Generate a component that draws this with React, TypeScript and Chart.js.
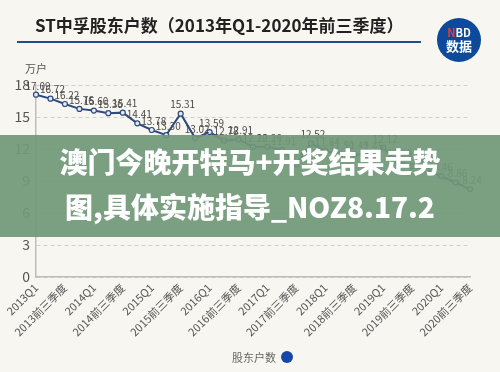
import React, { useEffect, useRef } from "react";
import { Chart, registerables } from "chart.js";

Chart.register(...registerables);

const years = ["2013", "2014", "2015", "2016", "2017", "2018", "2019", "2020"];
const periods = ["Q1", "中报", "前三季度", "年报"];
const categories: string[] = [];
years.forEach((y) => {
  periods.forEach((p) => {
    if (!(y === "2020" && p === "年报")) categories.push(y + p);
  });
});

const holders = [
  17.09, 16.72, 16.22, 15.76, 15.6, 15.36, 15.41, 14.41, 13.78, 13.3, 15.31, 13.02, 13.59, 12.78, 12.91,
  12.2, 12.2, 11.91, 10.55, 12.52, 11.84, 11.5, 11.49, 11.45, 12.12, 10.8, 10.39, 10.02, 9.46, 8.86, 8.24,
];

const yTicks = [0, 3, 6, 9, 12, 15, 18];

const FONT = "'Noto Sans CJK SC', 'Noto Sans', sans-serif";

const valueLabels = {
  id: "valueLabels",
  afterDatasetsDraw(chart: any) {
    const ctx = chart.ctx;
    const meta = chart.getDatasetMeta(0);
    ctx.save();
    ctx.font = "10px " + FONT;
    ctx.fillStyle = "#4a4a4a";
    ctx.textAlign = "center";
    ctx.textBaseline = "bottom";
    meta.data.forEach((pt: any, i: number) => {
      ctx.fillText(holders[i].toFixed(2), pt.x + 2, pt.y - 4);
    });
    ctx.restore();
  },
};

export default function App() {
  const ref = useRef<HTMLCanvasElement>(null);
  useEffect(() => {
    const chart = new Chart(ref.current!, {
      type: "line",
      data: {
        labels: categories,
        datasets: [
          {
            label: "股东户数",
            data: holders,
            borderColor: "#2c4a7e",
            borderWidth: 2,
            pointRadius: 2.5,
            pointBorderWidth: 1.2,
            pointBackgroundColor: "#e3e9f3",
            pointBorderColor: "#2c4a7e",
            tension: 0,
          },
        ],
      },
      options: {
        animation: false,
        responsive: false,
        layout: { padding: { top: 85, right: 30, bottom: 30, left: 0 } },
        plugins: { legend: { display: false }, tooltip: { enabled: false } },
        scales: {
          x: {
            grid: { display: false, drawTicks: false },
            border: { color: "#bdbdbd", width: 1.5 },
            afterFit: (s: any) => {
              s.height = 65;
            },
            ticks: {
              autoSkip: false,
              maxRotation: 45,
              minRotation: 45,
              padding: 4,
              color: "#555",
              font: { size: 11, family: FONT },
              callback: (_v: any, i: number) => {
                const c = categories[i];
                if (c.endsWith("Q1")) return c;
                if (c.endsWith("前三季度")) return c;
                return "";
              },
            },
          },
          y: {
            min: 0,
            max: 18,
            afterFit: (s: any) => {
              s.width = 36;
            },
            afterBuildTicks: (s: any) => {
              s.ticks = yTicks.map((v) => ({ value: v }));
            },
            grid: { color: "#cfcfcf", drawTicks: false, lineWidth: 1 },
            border: { color: "#bdbdbd", width: 1.5, dash: [4, 3] },
            ticks: {
              padding: 6,
              color: "#555",
              font: { size: 14, family: FONT },
            },
          },
        },
      },
      plugins: [valueLabels],
    } as any);
    return () => chart.destroy();
  }, []);

  return (
    <div
      style={{
        position: "fixed",
        left: 0,
        top: 0,
        width: 500,
        height: 372,
        background: "#f8f6f1",
        overflow: "hidden",
        fontFamily: FONT,
      }}
    >
      <canvas ref={ref} width={500} height={372} style={{ position: "absolute", left: 0, top: 0 }} />
      <div
        style={{
          position: "absolute",
          left: 35,
          top: 13,
          fontSize: 17,
          fontWeight: 700,
          color: "#222",
          whiteSpace: "nowrap",
          lineHeight: "24px",
        }}
      >
        ST中孚股东户数（2013年Q1-2020年前三季度）
      </div>
      <div style={{ position: "absolute", left: 17, top: 41, width: 404, height: 2, background: "#1f4e8c" }} />
      <div
        style={{
          position: "absolute",
          left: 437,
          top: 18,
          width: 44,
          height: 44,
          borderRadius: 22,
          background: "#0d4a9c",
          textAlign: "center",
          color: "#fff",
          fontWeight: 700,
        }}
      >
        <div style={{ fontSize: 11, lineHeight: "11px", marginTop: 9 }}>
          <span style={{ color: "#e43b3b" }}>N</span>BD
        </div>
        <div style={{ fontSize: 13, lineHeight: "15px" }}>数据</div>
      </div>
      <div style={{ position: "absolute", left: 25, top: 60, fontSize: 11, color: "#555" }}>万户</div>
      <div
        style={{
          position: "absolute",
          left: 0,
          top: 135,
          width: 500,
          height: 102,
          background: "rgba(112,152,120,0.93)",
          color: "#fff",
          fontWeight: 900,
          fontSize: 28,
          lineHeight: "45px",
          textAlign: "center",
          paddingTop: 4,
          boxSizing: "border-box",
          whiteSpace: "nowrap",
        }}
      >
        <div>澳门今晚开特马+开奖结果走势</div>
        <div>图,具体实施指导_NOZ8.17.2</div>
      </div>
      <div
        style={{
          position: "absolute",
          left: 232,
          top: 349,
          fontSize: 11,
          color: "#666",
          display: "flex",
          alignItems: "center",
          lineHeight: "16px",
        }}
      >
        <span>股东户数</span>
        <span
          style={{
            display: "inline-block",
            width: 12,
            height: 12,
            borderRadius: 6,
            background: "#1747a6",
            marginLeft: 5,
          }}
        />
      </div>
    </div>
  );
}
